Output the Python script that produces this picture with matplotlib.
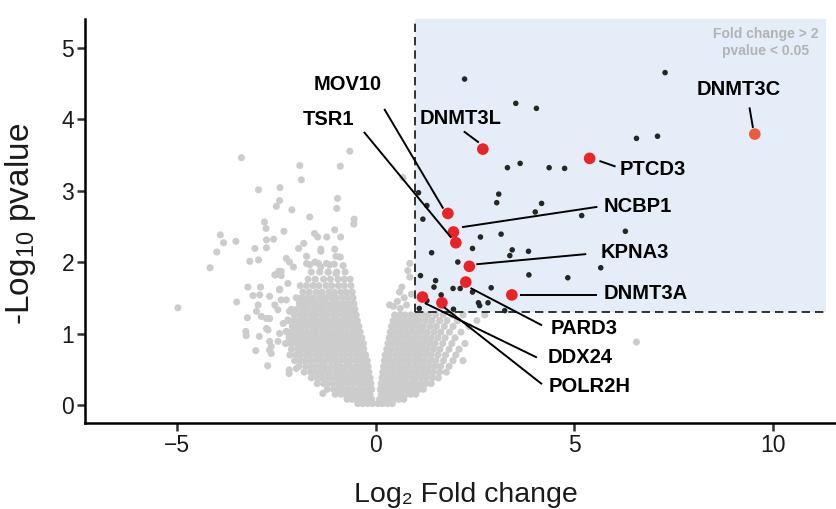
import matplotlib
matplotlib.use('Agg')
import matplotlib.pyplot as plt
from matplotlib.patches import Rectangle

plt.rcParams['font.family'] = ['Liberation Sans', 'DejaVu Sans']
plt.rcParams['mathtext.fontset'] = 'custom'
plt.rcParams['mathtext.rm'] = 'Liberation Sans'

# ---------------- data ----------------
# dense grey core, left lobe: (y, [x values])
left_lobe_rows = [
    (0.02, [-0.45, -0.33, -0.2, -0.08]),
    (0.08, [-0.72, -0.6, -0.47, -0.35, -0.23, -0.1]),
    (0.15, [-1.02, -0.87, -0.76, -0.61, -0.5, -0.37, -0.26, -0.14]),
    (0.22, [-1.22, -1.06, -0.95, -0.83, -0.69, -0.57, -0.44, -0.32, -0.2, -0.1]),
    (0.30, [-1.47, -1.31, -1.2, -1.08, -0.94, -0.81, -0.69, -0.57, -0.43, -0.31, -0.2, -0.12]),
    (0.38, [-1.62, -1.47, -1.36, -1.22, -1.09, -0.97, -0.85, -0.71, -0.59, -0.47, -0.34, -0.22, -0.14]),
    (0.46, [-1.8, -1.64, -1.53, -1.39, -1.27, -1.15, -1.01, -0.89, -0.77, -0.63, -0.51, -0.4, -0.27, -0.17]),
    (0.54, [-1.93, -1.76, -1.65, -1.51, -1.39, -1.27, -1.13, -1.01, -0.89, -0.75, -0.63, -0.5, -0.38, -0.26, -0.19]),
    (0.62, [-2.04, -1.89, -1.78, -1.63, -1.52, -1.38, -1.27, -1.13, -1.01, -0.89, -0.75, -0.64, -0.5, -0.38, -0.27, -0.21]),
    (0.70, [-2.16, -2.01, -1.9, -1.75, -1.64, -1.5, -1.39, -1.25, -1.13, -1.01, -0.87, -0.76, -0.62, -0.49, -0.37, -0.25]),
    (0.78, [-2.12, -1.96, -1.83, -1.69, -1.57, -1.43, -1.32, -1.18, -1.06, -0.94, -0.8, -0.68, -0.56, -0.43, -0.3]),
    (0.86, [-2.27, -2.14, -2.02, -1.88, -1.77, -1.63, -1.51, -1.4, -1.26, -1.14, -1.0, -0.88, -0.76, -0.62, -0.5, -0.38, -0.31]),
    (0.94, [-2.18, -2.06, -1.95, -1.81, -1.69, -1.56, -1.44, -1.32, -1.18, -1.06, -0.94, -0.8, -0.68, -0.56, -0.44, -0.35]),
    (1.02, [-2.22, -2.1, -1.99, -1.87, -1.75, -1.61, -1.5, -1.36, -1.24, -1.13, -0.99, -0.87, -0.74, -0.6, -0.49, -0.39]),
    (1.10, [-2.1, -1.97, -1.86, -1.72, -1.6, -1.47, -1.35, -1.23, -1.09, -0.97, -0.85, -0.72, -0.6, -0.48, -0.42]),
    (1.18, [-2.2, -2.07, -1.95, -1.82, -1.69, -1.57, -1.44, -1.31, -1.19, -1.06, -0.94, -0.81, -0.69, -0.57, -0.46]),
    (1.26, [-2.05, -1.9, -1.77, -1.62, -1.5, -1.35, -1.23, -1.08, -0.96, -0.82, -0.7, -0.58, -0.49]),
    (1.34, [-2.12, -1.98, -1.84, -1.71, -1.56, -1.43, -1.31, -1.16, -1.04, -0.9, -0.77, -0.64, -0.52]),
    (1.42, [-1.92, -1.78, -1.63, -1.5, -1.35, -1.23, -1.08, -0.96, -0.82, -0.69, -0.55]),
    (1.50, [-2.0, -1.86, -1.72, -1.57, -1.41, -1.27, -1.12, -0.99, -0.84, -0.7, -0.57]),
    (1.58, [-1.83, -1.67, -1.5, -1.35, -1.18, -1.04, -0.88, -0.74, -0.59]),
    (1.67, [-1.9, -1.74, -1.58, -1.43, -1.25, -1.11, -0.94, -0.79, -0.62]),
    (1.76, [-1.7, -1.52, -1.31, -1.14, -0.95, -0.79, -0.64]),
    (1.86, [-1.62, -1.41, -1.19, -0.98, -0.77]),
]

# dense grey core, right lobe: (y, [x values])
right_lobe_rows = [
    (0.02, [0.05, 0.17, 0.3, 0.42]),
    (0.08, [0.1, 0.22, 0.35, 0.47, 0.58, 0.71]),
    (0.15, [0.14, 0.27, 0.38, 0.51, 0.62, 0.76, 0.88, 1.01]),
    (0.22, [0.12, 0.24, 0.37, 0.48, 0.61, 0.72, 0.85, 0.96, 1.09, 1.2]),
    (0.30, [0.14, 0.27, 0.38, 0.51, 0.62, 0.76, 0.88, 1.01, 1.13, 1.27, 1.4]),
    (0.38, [0.16, 0.28, 0.41, 0.52, 0.65, 0.77, 0.91, 1.02, 1.16, 1.28, 1.43, 1.58]),
    (0.46, [0.18, 0.31, 0.42, 0.56, 0.68, 0.81, 0.93, 1.06, 1.18, 1.32, 1.45, 1.61, 1.78]),
    (0.54, [0.2, 0.32, 0.46, 0.58, 0.71, 0.83, 0.97, 1.08, 1.22, 1.34, 1.49, 1.64, 1.85]),
    (0.62, [0.22, 0.35, 0.47, 0.61, 0.72, 0.86, 0.98, 1.11, 1.23, 1.38, 1.52, 1.71, 1.95, 2.2]),
    (0.70, [0.24, 0.36, 0.5, 0.62, 0.76, 0.87, 1.01, 1.13, 1.27, 1.4, 1.57, 1.76, 2.02]),
    (0.78, [0.28, 0.41, 0.53, 0.67, 0.78, 0.92, 1.04, 1.18, 1.3, 1.46, 1.62, 1.85, 2.1]),
    (0.86, [0.31, 0.43, 0.57, 0.69, 0.83, 0.95, 1.09, 1.21, 1.36, 1.5, 1.69, 1.92, 2.25]),
    (0.94, [0.34, 0.47, 0.59, 0.73, 0.85, 0.99, 1.11, 1.26, 1.4, 1.57, 1.75, 2.0]),
    (1.02, [0.37, 0.5, 0.64, 0.76, 0.9, 1.02, 1.16, 1.3, 1.47, 1.64, 1.86, 2.15]),
    (1.10, [0.4, 0.54, 0.66, 0.8, 0.92, 1.07, 1.2, 1.37, 1.53, 1.73, 1.95, 2.35]),
    (1.18, [0.44, 0.57, 0.71, 0.83, 0.97, 1.1, 1.26, 1.42, 1.61, 1.8, 2.06, 2.55]),
    (1.26, [0.48, 0.62, 0.74, 0.89, 1.02, 1.18, 1.33, 1.51, 1.7, 1.93, 2.2, 2.75]),
]

# scattered grey points
grey_out_x = [-3.38, -0.65, -0.89, -1.91, -1.87, -2.95, -2.41, -2.42, -2.50, -2.11,
              -0.96, -0.98, -1.66, -0.54, -0.55, -2.80, -2.76, -2.31, -3.91, -3.83,
              -3.52, -4.00, -4.17, -4.98, -3.04, -2.75, -2.75, -2.57, -3.17, -2.95,
              -1.54, -1.46, -1.23, -1.03, -0.88, -1.81, -1.94, -1.38, -1.03, -1.74,
              -2.25, -2.17, -2.07, -2.44, -2.38, -2.52, -3.22, -2.90, -3.09, -2.92,
              -3.50, -3.23, -3.27, -3.26, -2.93, -3.02, -2.72, -2.18, -2.18, -2.00,
              -1.33, -1.74, -1.66, -1.53, -1.44, -1.38, -1.24, -1.16, -1.04, -1.00,
              -0.89, -0.82, -1.38, -1.20, -1.00, -2.96, -3.00, -2.88, -2.75, -2.67,
              -2.75, -2.71, -2.67, -2.63, -2.67, -2.46, -2.42, -2.63, -2.67, -2.54,
              -2.46, -2.38, -2.42, -2.25, -2.17, -2.21, -2.33, -2.25, -2.54, -2.38,
              -2.21, -2.42, 0.35, 0.45, 0.55, 0.60, 0.66, 0.72, 0.86, 0.81,
              0.86, 0.69, 0.62, 0.78, 0.90, 6.57]
grey_out_y = [3.46, 3.55, 3.34, 3.35, 3.15, 3.01, 3.04, 2.86, 2.78, 2.73,
              2.89, 2.75, 2.63, 2.60, 2.53, 2.56, 2.47, 2.43, 2.38, 2.27,
              2.29, 2.14, 1.92, 1.36, 2.19, 2.20, 2.31, 2.32, 2.01, 2.03,
              2.40, 2.35, 2.35, 2.45, 2.35, 2.26, 2.19, 2.18, 2.18, 2.08,
              2.05, 2.00, 1.93, 1.87, 1.81, 1.82, 1.65, 1.65, 1.53, 1.54,
              1.44, 1.22, 1.03, 0.97, 0.96, 0.76, 0.55, 0.49, 0.44, 0.51,
              0.16, 1.98, 1.96, 2.00, 1.98, 1.93, 1.98, 1.96, 1.97, 2.08,
              2.07, 1.95, 2.15, 1.86, 1.84, 1.40, 1.31, 1.24, 1.21, 1.21,
              1.07, 1.05, 0.89, 0.82, 0.77, 0.89, 1.00, 0.72, 1.52, 1.40,
              1.33, 1.47, 1.61, 1.47, 1.31, 1.19, 1.14, 1.03, 1.82, 1.87,
              1.70, 1.62, 1.40, 1.38, 1.45, 1.58, 1.65, 1.50, 1.79, 1.88,
              1.98, 3.18, 1.35, 1.40, 1.55, 0.88]

# significant (not labelled) genes
sig_x = [2.24, 7.29, 3.53, 4.05, 6.57, 7.10, 3.32, 3.64, 4.37, 4.76,
         3.10, 3.05, 4.18, 4.02, 5.19, 2.64, 3.16, 6.29, 1.08, 1.29,
         1.19, 1.13, 1.41, 2.07, 2.44, 3.44, 3.38, 3.85, 3.86, 4.84,
         5.67, 1.51, 1.95, 2.13, 1.47, 2.91, 1.65, 2.44, 2.59, 2.62,
         2.83, 1.29, 1.96, 3.25, 1.10]
sig_y = [4.56, 4.65, 4.22, 4.15, 3.73, 3.76, 3.32, 3.38, 3.32, 3.31,
         2.95, 2.83, 2.82, 2.70, 2.65, 2.35, 2.39, 2.43, 2.97, 2.79,
         2.60, 1.81, 2.13, 2.00, 2.19, 2.17, 2.09, 2.15, 1.82, 1.78,
         1.92, 1.74, 1.63, 1.63, 1.65, 1.64, 1.54, 1.58, 1.43, 1.39,
         1.43, 1.46, 1.34, 1.32, 1.35]

# labelled genes
gene_names = ['DNMT3C', 'DNMT3L', 'PTCD3', 'MOV10', 'NCBP1', 'TSR1',
              'KPNA3', 'PARD3', 'DNMT3A', 'DDX24', 'POLR2H']
gene_x = [9.55, 2.70, 5.39, 1.82, 1.96, 2.02, 2.36, 2.27, 3.43, 1.18, 1.67]
gene_y = [3.79, 3.58, 3.45, 2.68, 2.42, 2.27, 1.94, 1.72, 1.54, 1.51, 1.43]

x_ticks = [-5, 0, 5, 10]
y_ticks = [0, 1, 2, 3, 4, 5]

fc_cut = 1.0          # log2(2)
p_cut = 1.301         # -log10(0.05)

# ---------------- layout of labels (text position, segment) ----------------
label_pos = [(9.14, 4.41), (2.14, 4.01), (6.98, 3.30), (-0.70, 4.49), (6.59, 2.77),
             (-1.18, 4.00), (6.52, 2.14), (5.25, 1.07), (6.80, 1.56), (5.16, 0.67),
             (5.40, 0.26)]
seg_start = [(9.42, 4.15), (2.24, 3.82), (5.66, 3.41), (0.23, 4.13), (2.20, 2.49),
             (-0.28, 3.81), (2.56, 1.97), (2.41, 1.63), (3.67, 1.54), (1.26, 1.42),
             (1.74, 1.36)]
seg_end = [(9.50, 3.89), (2.58, 3.68), (6.02, 3.34), (1.69, 2.76), (5.56, 2.77),
           (1.89, 2.35), (5.28, 2.11), (4.17, 1.12), (5.56, 1.54), (4.04, 0.67),
           (4.17, 0.30)]

# ---------------- plot ----------------
fig = plt.figure(figsize=(8.37, 5.09), dpi=100)
ax = fig.add_axes([85 / 837, 86 / 509, 750 / 837, 404 / 509])
ax.set_xlim(-7.32, 11.57)
ax.set_ylim(-0.252, 5.40)

rect_right = 11.35
ax.add_patch(Rectangle((fc_cut, p_cut), rect_right - fc_cut, 5.40 - p_cut,
                       facecolor='#e4edf8', edgecolor='none', zorder=0))

gx, gy = [], []
for yv, xs in left_lobe_rows + right_lobe_rows:
    gx.extend(xs)
    gy.extend([yv] * len(xs))
gx.extend(grey_out_x)
gy.extend(grey_out_y)
ax.scatter(gx, gy, s=26, color='#cccccc', edgecolors='none', zorder=2)

ax.plot([fc_cut, fc_cut], [p_cut, 5.40], color='#111111', lw=1.2,
        ls=(0, (5, 3)), zorder=3)
ax.plot([fc_cut, rect_right], [p_cut, p_cut], color='#111111', lw=1.2,
        ls=(0, (5, 3)), zorder=3)

ax.scatter(sig_x, sig_y, s=16, color='#262626', edgecolors='none', zorder=4)

red_colors = ['#ee5a3c'] + ['#ec2326'] * (len(gene_names) - 1)
ax.scatter(gene_x, gene_y, s=70, color=red_colors, edgecolors='none', zorder=5)

for name, (tx, ty), (sx0, sy0), (sx1, sy1) in zip(gene_names, label_pos, seg_start, seg_end):
    ax.plot([sx0, sx1], [sy0, sy1], color='black', lw=1.4, zorder=6)
    ax.text(tx, ty, name, fontsize=14.5, fontweight='bold', ha='center',
            va='center', color='black', zorder=7)

ax.text(9.82, 5.19, 'Fold change > 2', fontsize=10, fontweight='bold',
        color='#b3b3b3', ha='center', va='center', zorder=7)
ax.text(9.82, 4.955, 'pvalue < 0.05', fontsize=10, fontweight='bold',
        color='#b3b3b3', ha='center', va='center', zorder=7)

for side in ['top', 'right']:
    ax.spines[side].set_visible(False)
for side in ['left', 'bottom']:
    ax.spines[side].set_linewidth(1.8)
    ax.spines[side].set_color('black')

ax.set_xticks(x_ticks)
ax.set_yticks(y_ticks)
ax.set_xticklabels(['\u22125', '0', '5', '10'])
ax.tick_params(axis='both', length=5.8, width=1.8, color='#333333',
               labelsize=16.5, labelcolor='#1a1a1a', pad=2)

fig.text(466 / 837, 1 - 502 / 509, 'Log\u2082 Fold change', fontsize=20.5,
         ha='center', va='baseline', color='#1a1a1a')
fig.text(21 / 837, 1 - 224 / 509, r'-Log$_{\mathregular{10}}$ pvalue', fontsize=24,
         rotation=90, ha='center', va='center', color='#1a1a1a')

fig.savefig('out.png', dpi=100)
